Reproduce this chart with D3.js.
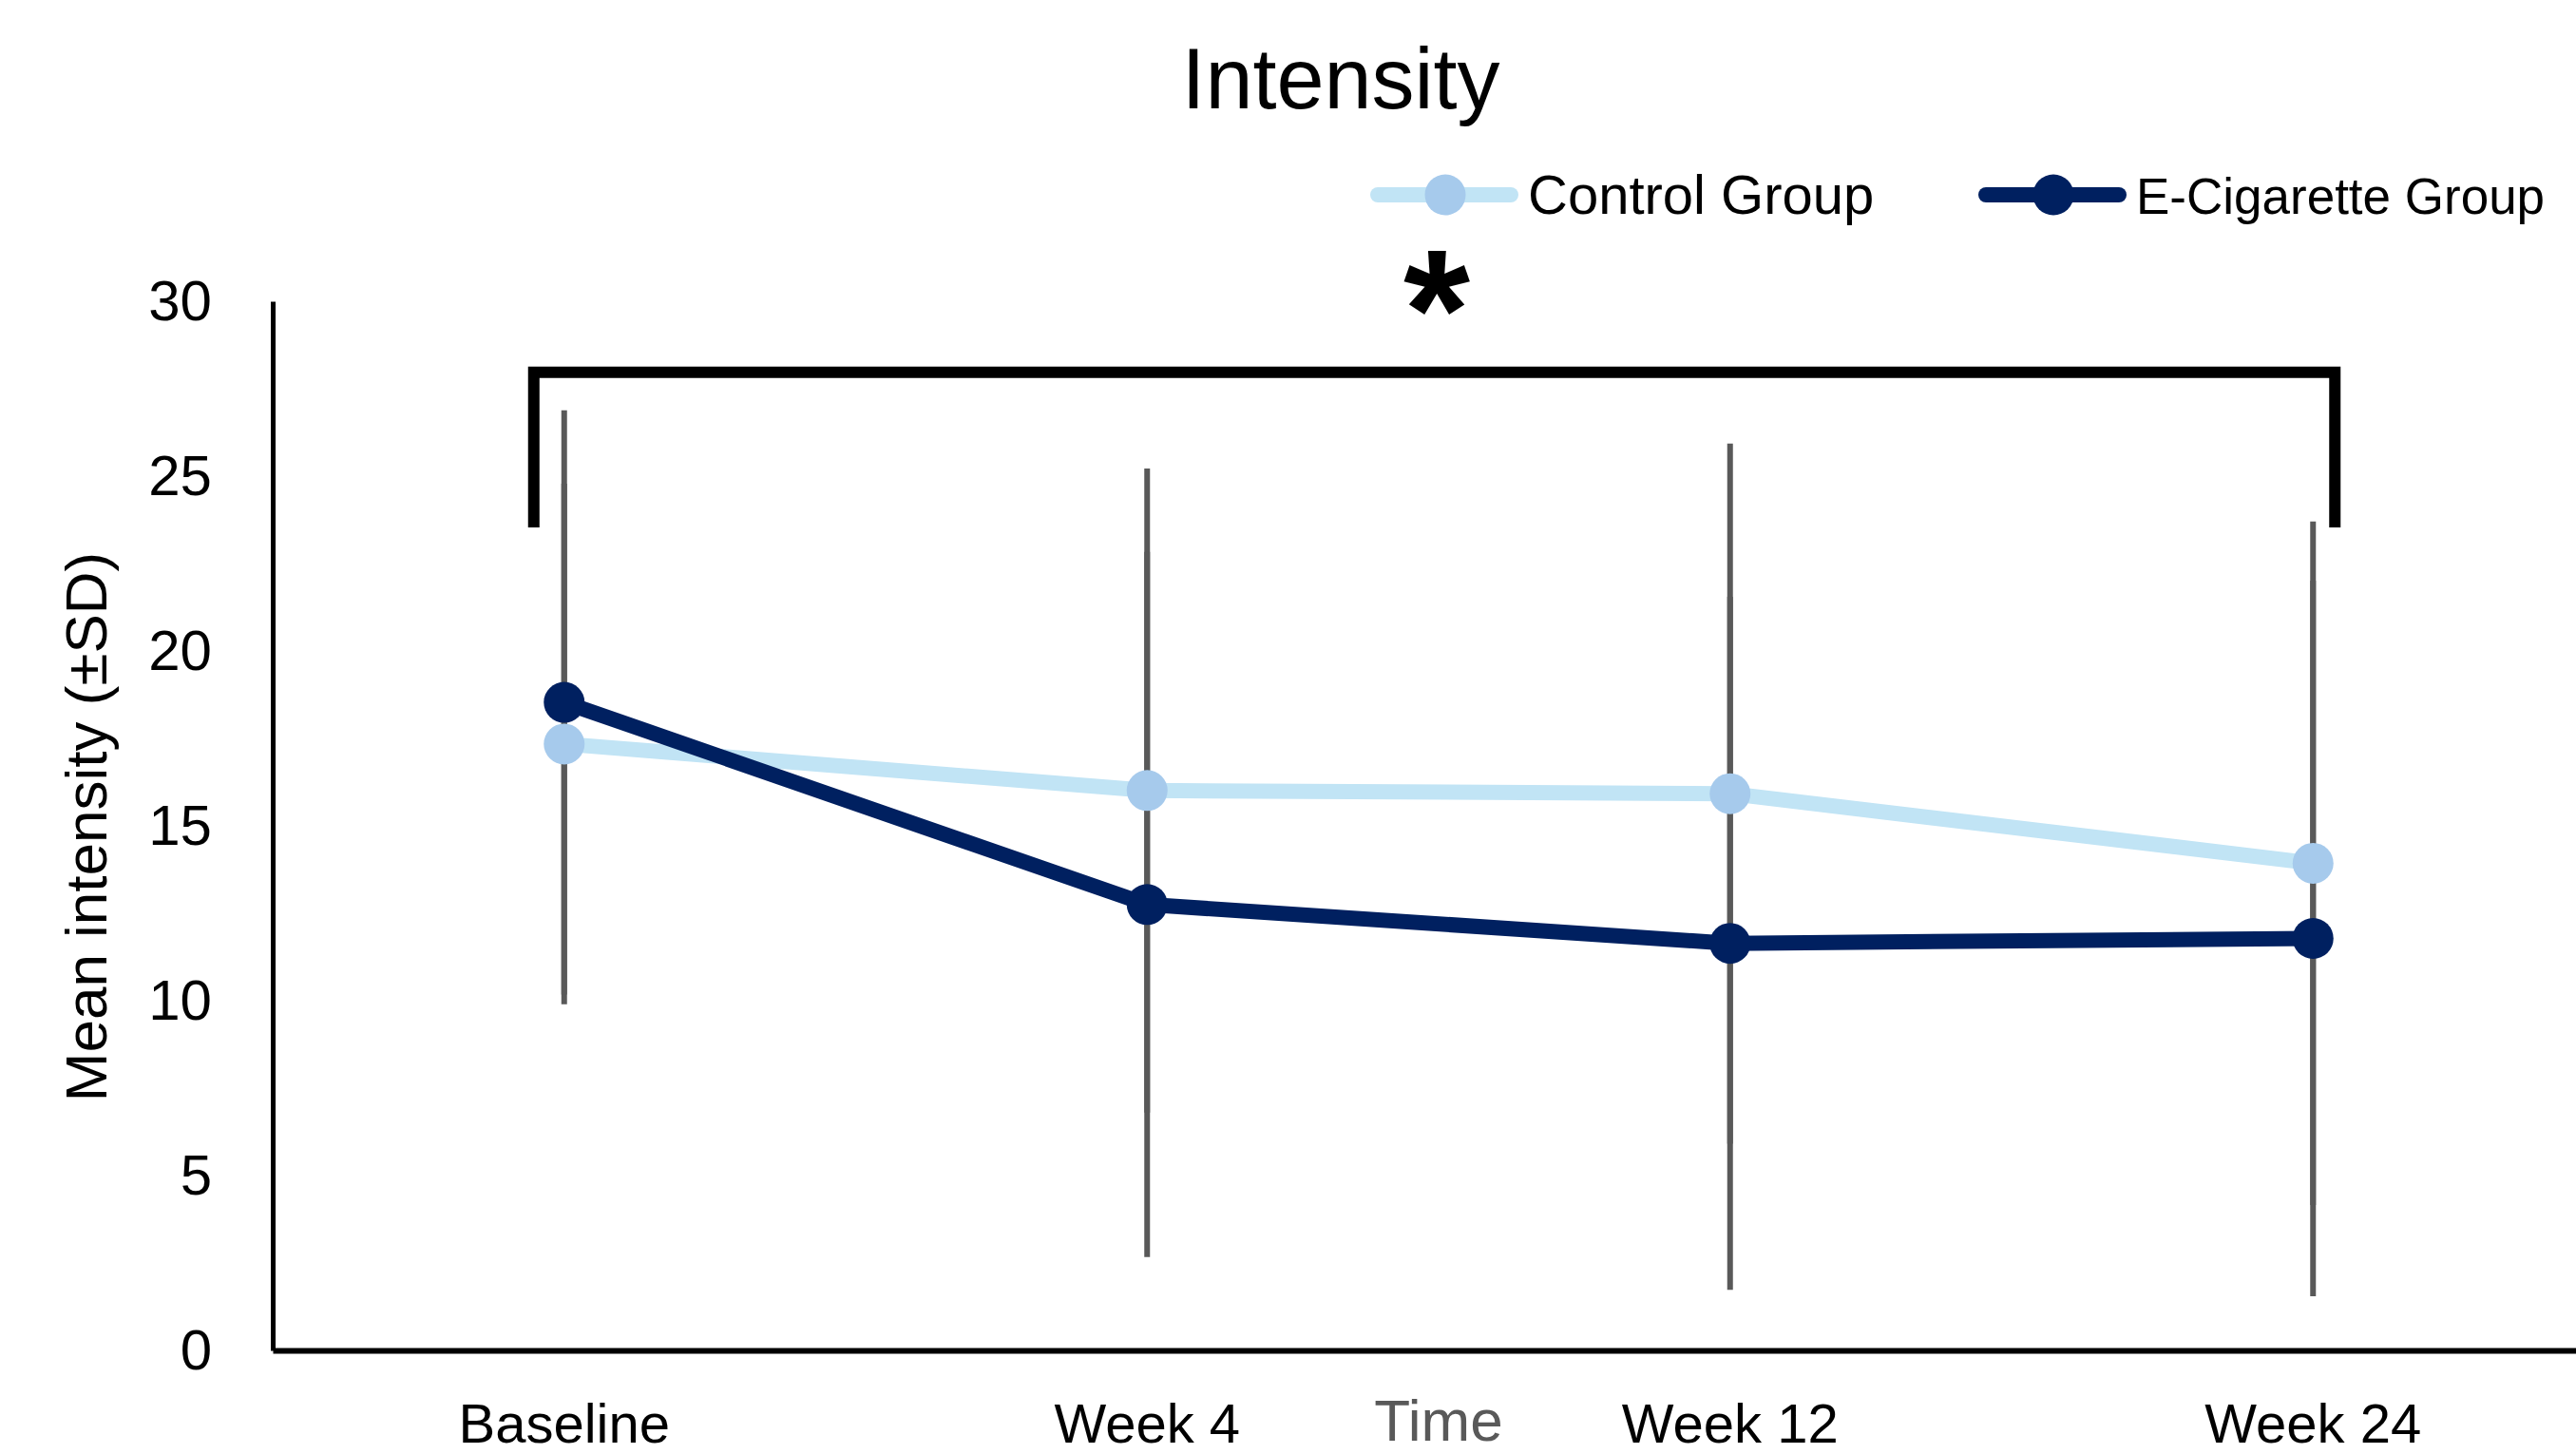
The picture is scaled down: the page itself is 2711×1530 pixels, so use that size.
<!DOCTYPE html>
<html>
<head>
<meta charset="utf-8">
<script src="https://cdn.jsdelivr.net/npm/d3@7"></script>
<style>
  body { margin: 0; background: #fff; }
  svg { display: block; font-family: "Liberation Sans", Arial, sans-serif; }
</style>
</head>
<body>
<div id="chart_div"></div>
<script>
// chart data
var timepoints = ["Baseline", "Week 4", "Week 12", "Week 24"];
var controlMeans = [17.34, 16.01, 15.92, 13.93];
var controlSD = [7.44, 9.21, 10.01, 9.77];
var ecigMeans = [18.53, 12.75, 11.64, 11.78];
var ecigSD = [8.35, 10.08, 9.91, 10.23];
var yTicks = [0, 5, 10, 15, 20, 25, 30];
var seriesNames = ["Control Group", "E-Cigarette Group"];

var width = 2711,
    height = 1530;

var svg = d3.select("#chart_div")
  .append("svg")
    .attr("width", width)
    .attr("height", height);

var xScale = d3.scaleBand()
    .domain(timepoints)
    .range([287, 2741])
    .padding(0);

var yScale = d3.scaleLinear()
    .domain([0, 30])
    .range([1421, 317]);

function xMid(d) { return xScale(d) + xScale.bandwidth() / 2; }

// title
svg.append("text")
    .attr("x", 1411)
    .attr("y", 114)
    .attr("text-anchor", "middle")
    .style("font-size", "90px")
    .text("Intensity");

// y axis
var yAxis = svg.append("g")
    .attr("transform", "translate(287,0)")
    .call(d3.axisLeft(yScale).tickValues(yTicks).tickSize(0).tickPadding(64));
yAxis.select(".domain").attr("stroke", "#000").attr("stroke-width", 5);
yAxis.selectAll("text").style("font-size", "60px").attr("fill", "#000").attr("font-family", null);

// x axis
var xAxis = svg.append("g")
    .attr("transform", "translate(0,1421)")
    .call(d3.axisBottom(xScale).tickSize(0).tickPadding(56));
xAxis.select(".domain").attr("stroke", "#000").attr("stroke-width", 6);
xAxis.selectAll("text").style("font-size", "58px").attr("fill", "#000").attr("font-family", null);

// axis titles
svg.append("text")
    .attr("transform", "translate(112,870) rotate(-90)")
    .attr("text-anchor", "middle")
    .style("font-size", "62px")
    .text("Mean intensity (\u00B1SD)");

svg.append("text")
    .attr("x", 1514)
    .attr("y", 1516)
    .attr("text-anchor", "middle")
    .attr("fill", "#595959")
    .style("font-size", "62px")
    .text("Time");

// error bars (drawn behind the lines)
var series = [
    {name: seriesNames[0], means: controlMeans, sd: controlSD, line: "#C1E4F5", marker: "#A6CAEC"},
    {name: seriesNames[1], means: ecigMeans, sd: ecigSD, line: "#002060", marker: "#002060"}
];

series.forEach(function(s) {
    svg.append("g").selectAll("line")
        .data(timepoints)
        .enter().append("line")
            .attr("x1", function(d) { return xMid(d); })
            .attr("x2", function(d) { return xMid(d); })
            .attr("y1", function(d, i) { return yScale(s.means[i] - s.sd[i]); })
            .attr("y2", function(d, i) { return yScale(s.means[i] + s.sd[i]); })
            .attr("stroke", "#595959")
            .attr("stroke-width", 6);
});

// lines + markers
series.forEach(function(s) {
    svg.append("path")
        .datum(timepoints)
        .attr("fill", "none")
        .attr("stroke", s.line)
        .attr("stroke-width", 16)
        .attr("stroke-linejoin", "round")
        .attr("d", d3.line()
            .x(function(d) { return xMid(d); })
            .y(function(d, i) { return yScale(s.means[i]); })
        );

    svg.append("g").selectAll("circle")
        .data(timepoints)
        .enter().append("circle")
            .attr("cx", function(d) { return xMid(d); })
            .attr("cy", function(d, i) { return yScale(s.means[i]); })
            .attr("r", 21.5)
            .attr("fill", s.marker);
});

// significance bracket from baseline to week 24
var bracketTop = 27.97,
    bracketBottom = 23.53;
var bx1 = xMid("Baseline") - 32,
    bx2 = xMid("Week 24") + 23;
svg.append("path")
    .attr("fill", "none")
    .attr("stroke", "#000")
    .attr("stroke-width", 12)
    .attr("stroke-linejoin", "miter")
    .attr("d", d3.line()([
        [bx1, yScale(bracketBottom)],
        [bx1, yScale(bracketTop)],
        [bx2, yScale(bracketTop)],
        [bx2, yScale(bracketBottom)]
    ]));

svg.append("text")
    .attr("x", 1512)
    .attr("y", 388)
    .attr("text-anchor", "middle")
    .style("font-size", "180px")
    .style("font-weight", "bold")
    .text("*");

// legend
var legendX = [1442, 2082];
var legendFont = [58, 53];   // second one a bit smaller so it stays on the page
series.forEach(function(s, i) {
    var lg = svg.append("g").attr("transform", "translate(" + legendX[i] + ",205)");
    lg.append("line")
        .attr("x1", 8).attr("x2", 148)
        .attr("stroke", s.line)
        .attr("stroke-width", 16)
        .attr("stroke-linecap", "round");
    lg.append("circle")
        .attr("cx", 79)
        .attr("r", 21.5)
        .attr("fill", s.marker);
    lg.append("text")
        .attr("x", 166)
        .attr("y", 20)
        .style("font-size", legendFont[i] + "px")
        .text(s.name);
});
</script>
</body>
</html>
